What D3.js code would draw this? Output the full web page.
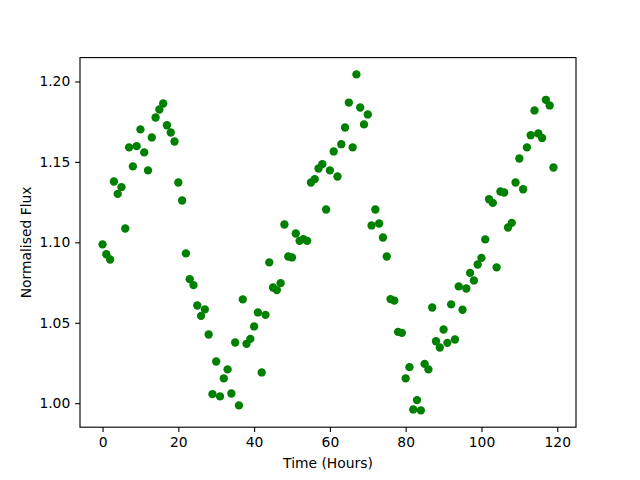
<!DOCTYPE html>
<html>
<head>
<meta charset="utf-8">
<script src="https://cdn.jsdelivr.net/npm/d3@7"></script>
<style>
  html, body { margin: 0; padding: 0; background: #fff; }
  svg { display: block; }
  text { font-family: "DejaVu Sans", sans-serif; fill: #000; }
</style>
</head>
<body>
<div id="chart"></div>
<script>
// time in hours
const hours = [
  0, 1, 2, 3, 4, 5, 6, 7, 8, 9, 10, 11, 12, 13, 14, 15, 16, 17, 18, 19,
  20, 21, 22, 23, 24, 25, 26, 27, 28, 29, 30, 31, 32, 33, 34, 35, 36, 37, 38, 39,
  40, 41, 42, 43, 44, 45, 46, 47, 48, 49, 50, 51, 52, 53, 54, 55, 56, 57, 58, 59,
  60, 61, 62, 63, 64, 65, 66, 67, 68, 69, 70, 71, 72, 73, 74, 75, 76, 77, 78, 79,
  80, 81, 82, 83, 84, 85, 86, 87, 88, 89, 90, 91, 92, 93, 94, 95, 96, 97, 98, 99,
  100, 101, 102, 103, 104, 105, 106, 107, 108, 109, 110, 111, 112, 113, 114, 115, 116, 117, 118, 119
];

// normalised flux
const flux = [
  1.0987, 1.0926, 1.0893, 1.1378, 1.1301, 1.1343, 1.1086, 1.1590, 1.1472, 1.1598,
  1.1702, 1.1559, 1.1447, 1.1652, 1.1776, 1.1826, 1.1863, 1.1728, 1.1683, 1.1627,
  1.1372, 1.1260, 1.0931, 1.0771, 1.0734, 1.0607, 1.0543, 1.0583, 1.0427, 1.0056,
  1.0259, 1.0042, 1.0154, 1.0210, 1.0060, 1.0377, 0.9986, 1.0645, 1.0369, 1.0400,
  1.0477, 1.0564, 1.0191, 1.0549, 1.0875, 1.0719, 1.0703, 1.0746, 1.1111, 1.0912,
  1.0906, 1.1055, 1.1009, 1.1020, 1.1009, 1.1372, 1.1393, 1.1459, 1.1486, 1.1204,
  1.1447, 1.1565, 1.1409, 1.1610, 1.1714, 1.1869, 1.1590, 1.2044, 1.1838, 1.1733,
  1.1795, 1.1105, 1.1204, 1.1117, 1.1030, 1.0912, 1.0647, 1.0638, 1.0443, 1.0437,
  1.0154, 1.0224, 0.9961, 1.0019, 0.9955, 1.0244, 1.0210, 1.0595, 1.0385, 1.0346,
  1.0458, 1.0375, 1.0614, 1.0396, 1.0726, 1.0581, 1.0713, 1.0810, 1.0763, 1.0862,
  1.0903, 1.1018, 1.1268, 1.1245, 1.0844, 1.1316, 1.1310, 1.1092, 1.1121, 1.1372,
  1.1521, 1.1330, 1.1590, 1.1666, 1.1820, 1.1677, 1.1649, 1.1886, 1.1851, 1.1465
];

const xTicks = [0, 20, 40, 60, 80, 100, 120];
const yTicks = [1.00, 1.05, 1.10, 1.15, 1.20];

const width = 640;
const height = 480;
const margin = { top: 57.6, right: 64, bottom: 52.8, left: 80 };
const pt = 100 / 72; // matplotlib points -> px at dpi 100
const fontSize = 10 * pt;

const svg = d3.select('#chart')
  .append('svg')
  .attr('width', width)
  .attr('height', height);

// matplotlib style auto limits: 5% padding of data range
const pad = (ext) => {
  const m = (ext[1] - ext[0]) * 0.05;
  return [ext[0] - m, ext[1] + m];
};

const x = d3.scaleLinear()
  .domain(pad(d3.extent(hours)))
  .range([margin.left, width - margin.right]);

const y = d3.scaleLinear()
  .domain(pad(d3.extent(flux)))
  .range([height - margin.bottom, margin.top]);

const tickLen = 3.5 * pt;
const lineW = 0.8 * pt;

// x axis
const xAxis = svg.append('g')
  .attr('transform', `translate(0,${height - margin.bottom})`)
  .call(d3.axisBottom(x).tickValues(xTicks).tickFormat(d3.format('d'))
    .tickSize(tickLen).tickPadding(tickLen).tickSizeOuter(0));

// y axis
const yAxis = svg.append('g')
  .attr('transform', `translate(${margin.left},0)`)
  .call(d3.axisLeft(y).tickValues(yTicks).tickFormat(d3.format('.2f'))
    .tickSize(tickLen).tickPadding(tickLen).tickSizeOuter(0));

[xAxis, yAxis].forEach(g => {
  g.select('.domain').remove();
  g.selectAll('line').attr('stroke', '#000').attr('stroke-width', lineW);
  g.selectAll('text')
    .style('font-family', '"DejaVu Sans", sans-serif')
    .style('font-size', fontSize + 'px')
    .attr('fill', '#000');
});

// points
svg.append('g')
  .selectAll('circle')
  .data(hours.map((h, i) => ({ h, f: flux[i] })))
  .join('circle')
  .attr('cx', d => x(d.h))
  .attr('cy', d => y(d.f))
  .attr('r', 3 * pt)
  .attr('fill', '#008000');

// frame
svg.append('rect')
  .attr('x', margin.left)
  .attr('y', margin.top)
  .attr('width', width - margin.left - margin.right)
  .attr('height', height - margin.top - margin.bottom)
  .attr('fill', 'none')
  .attr('stroke', '#000')
  .attr('stroke-width', lineW);

// axis labels
svg.append('text')
  .attr('x', (margin.left + width - margin.right) / 2)
  .attr('y', 468)
  .attr('text-anchor', 'middle')
  .style('font-size', fontSize + 'px')
  .text('Time (Hours)');

svg.append('text')
  .attr('transform', `translate(31,${(margin.top + height - margin.bottom) / 2}) rotate(-90)`)
  .attr('text-anchor', 'middle')
  .style('font-size', fontSize + 'px')
  .text('Normalised Flux');
</script>
</body>
</html>
